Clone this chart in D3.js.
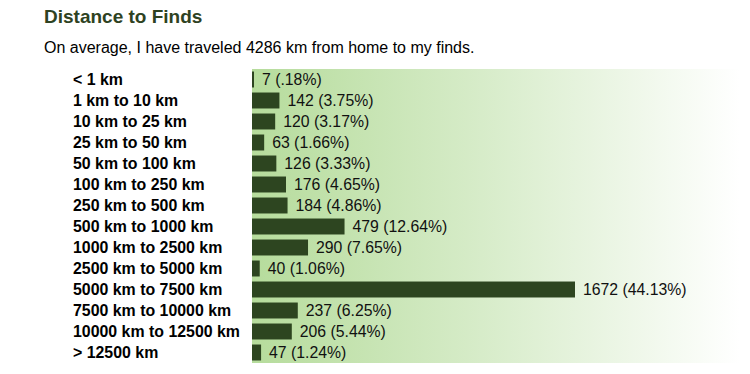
<!DOCTYPE html>
<html>
<head>
<meta charset="utf-8">
<script src="https://cdn.jsdelivr.net/npm/d3@7"></script>
<style>
  body { margin: 0; background: #fff; }
  svg { display: block; font-family: "Liberation Sans", Arial, sans-serif; }
</style>
</head>
<body>
<svg id="chart" width="750" height="374"></svg>
<script>
// distance buckets and find counts
var categories = ['< 1 km', '1 km to 10 km', '10 km to 25 km', '25 km to 50 km', '50 km to 100 km',
    '100 km to 250 km', '250 km to 500 km', '500 km to 1000 km', '1000 km to 2500 km',
    '2500 km to 5000 km', '5000 km to 7500 km', '7500 km to 10000 km', '10000 km to 12500 km', '> 12500 km'];
var counts = [7, 142, 120, 63, 126, 176, 184, 479, 290, 40, 1672, 237, 206, 47];
var percents = ['.18', '3.75', '3.17', '1.66', '3.33', '4.65', '4.86', '12.64', '7.65', '1.06', '44.13', '6.25', '5.44', '1.24'];

var svg = d3.select('#chart');

svg.append('text')
    .attr('x', 44).attr('y', 23)
    .attr('font-size', 19).attr('font-weight', 'bold')
    .attr('fill', '#2e4222')
    .text('Distance to Finds');

svg.append('text')
    .attr('x', 44).attr('y', 53)
    .attr('font-size', 16)
    .attr('fill', '#000')
    .text('On average, I have traveled 4286 km from home to my finds.');

var x0 = 252;
var y = d3.scaleBand().domain(categories).range([69, 363]).paddingInner(0.24).paddingOuter(0.12);
var x = d3.scaleLinear().domain([0, 1672]).range([0, 323]);

var grad = svg.append('defs').append('linearGradient').attr('id', 'bg');
grad.append('stop').attr('offset', '0%').attr('stop-color', '#b6dc9c');
grad.append('stop').attr('offset', '50%').attr('stop-color', '#d9edcc');
grad.append('stop').attr('offset', '100%').attr('stop-color', '#ffffff');

svg.append('rect')
    .attr('x', x0).attr('y', 69)
    .attr('width', 488).attr('height', 294)
    .attr('fill', 'url(#bg)');

var rows = svg.selectAll('g.row').data(categories).enter().append('g').attr('class', 'row');

rows.append('text')
    .attr('x', 73)
    .attr('y', function (d) { return y(d) + y.bandwidth() / 2; })
    .attr('dy', '0.33em')
    .attr('font-size', 15.9).attr('font-weight', 'bold')
    .text(function (d) { return d; });

rows.append('rect')
    .attr('x', x0)
    .attr('y', function (d) { return y(d); })
    .attr('height', y.bandwidth())
    .attr('width', function (d, i) { return Math.max(2, x(counts[i])); })
    .attr('fill', '#2d4520');

rows.append('text')
    .attr('x', function (d, i) { return x0 + Math.max(2, x(counts[i])) + 8; })
    .attr('y', function (d) { return y(d) + y.bandwidth() / 2; })
    .attr('dy', '0.33em')
    .attr('font-size', 15.8)
    .attr('fill', '#111')
    .text(function (d, i) { return counts[i] + ' (' + percents[i] + '%)'; });
</script>
</body>
</html>
